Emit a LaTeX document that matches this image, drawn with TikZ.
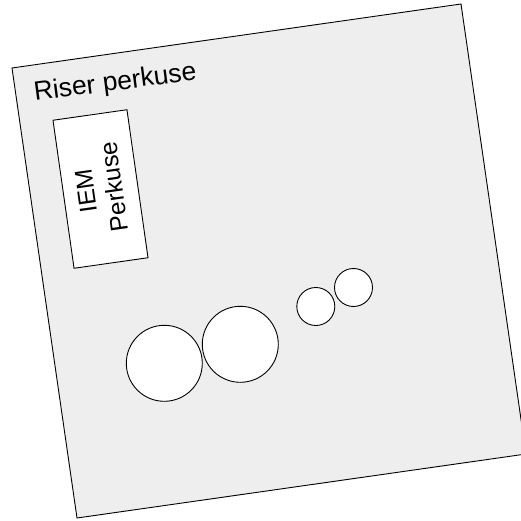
\documentclass[tikz,border=0pt]{standalone}
\usepackage{fontspec}
\setmainfont{Liberation Sans}
\begin{document}
\begin{tikzpicture}[x=1pt,y=-1pt,
  outline/.style={draw=black,line width=0.9pt},
  drum/.style={outline,fill=white},
  lbl/.style={font=\fontsize{26.5}{30}\selectfont,inner sep=0pt}]
\useasboundingbox (0,0) rectangle (521,521);
\coordinate (tl) at (12,68);
\coordinate (tr) at (461,4);
\coordinate (br) at (526,454);
\coordinate (bl) at (77,518);
\fill[fill=white] (0,0) rectangle (521,521);
\draw[outline,fill={rgb,255:red,238;green,238;blue,238}] (tl) -- (tr) -- (br) -- (bl) -- cycle;
\node[lbl,anchor=base west,rotate=7.5] (riser) at (35,101) {Riser perkuse};
\node[drum,rotate=98.1,minimum width=149.5pt,minimum height=74.7pt,inner sep=0pt,align=center,font=\fontsize{24.5}{28}\selectfont] (iem) at (100.5,189) {IEM\\Perkuse};
\draw[drum] (164.3,363.3) circle[radius=38];
\draw[drum] (240.3,344.3) circle[radius=38];
\draw[drum] (315.8,306.5) circle[radius=19];
\draw[drum] (353.5,287.5) circle[radius=19];
\end{tikzpicture}
\end{document}
